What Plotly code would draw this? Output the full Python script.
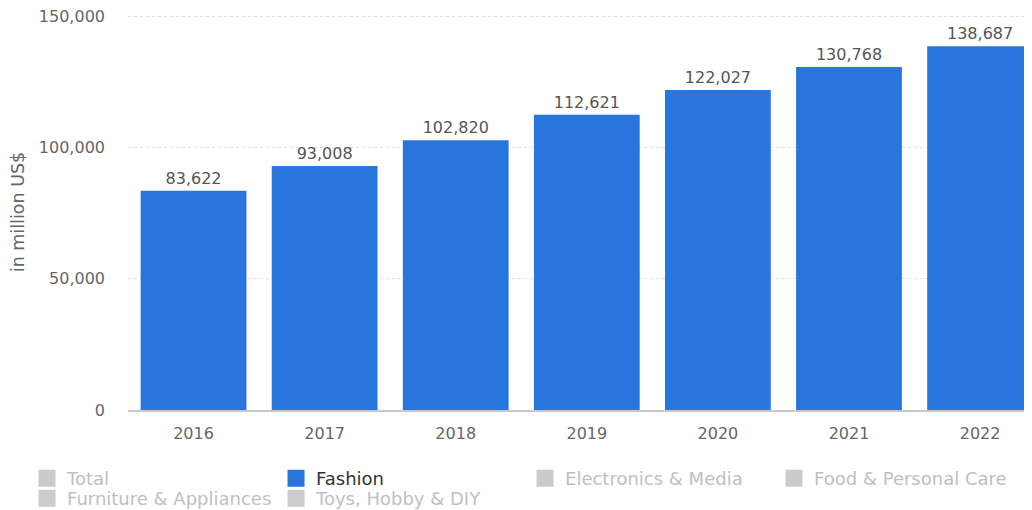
import plotly.graph_objects as go

years = ["2016", "2017", "2018", "2019", "2020", "2021", "2022"]
fashion = [83622, 93008, 102820, 112621, 122027, 130768, 138687]
legend_row1 = ["Total", "Fashion", "Electronics & Media", "Food & Personal Care"]
legend_row2 = ["Furniture & Appliances", "Toys, Hobby & DIY"]
y_ticks = [0, 50000, 100000, 150000]
y_tick_text = ["0", "50,000", "100,000", "150,000"]

BLUE = "#2876dd"
GREY = "#999999"
FONT = "DejaVu Sans"

fig = go.Figure()

# data bars
fig.add_trace(go.Bar(
    x=years, y=fashion, name="Fashion", showlegend=False,
    marker=dict(color=BLUE, line=dict(width=0)),
    text=[f"{v:,}" for v in fashion], textposition="outside",
    textfont=dict(family=FONT, size=16, color="#555555"),
    cliponaxis=False, hoverinfo="x+y",
))

# legend entries (no drawn marks)
for legend_id, names in (("legend", legend_row1), ("legend2", legend_row2)):
    for name in names:
        active = name == "Fashion"
        color = BLUE if active else GREY
        fig.add_trace(go.Bar(
            x=years, y=[None] * len(years),
            name="<span style='color:#333333'>Fashion</span>" if active else name,
            visible=True if active else "legendonly",
            showlegend=True, legend=legend_id, hoverinfo="skip",
            marker=dict(color=color, line=dict(width=5, color=color)),
        ))

legend_common = dict(
    orientation="h", x=-0.1117, xanchor="left", yanchor="top",
    font=dict(family=FONT, size=18, color="#808080"),
    entrywidth=204, entrywidthmode="pixels",
    tracegroupgap=0, itemclick=False, itemdoubleclick=False,
    traceorder="normal", bgcolor="rgba(0,0,0,0)",
)

# page body has an 8px default margin: figure is laid out at (8, 8)
fig.update_layout(
    width=1024, height=502,
    margin=dict(l=120, r=0, t=6.4, b=100, autoexpand=False),
    paper_bgcolor="white", plot_bgcolor="white",
    font=dict(family=FONT, size=16, color="#666666"),
    barmode="overlay",
    bargap=0.193,
    showlegend=True,
    legend=dict(y=-0.1265, **legend_common),
    legend2=dict(y=-0.1771, **legend_common),
    xaxis=dict(
        type="category", categoryorder="array", categoryarray=years,
        range=[-0.5, 6.396], showgrid=False, zeroline=False,
        showline=True, linecolor="#c8c8c8", linewidth=1.5,
        ticks="", ticklabelstandoff=8,
        tickfont=dict(family=FONT, size=16, color="#666666"),
        fixedrange=True,
    ),
    yaxis=dict(
        range=[0, 151000], tickvals=y_ticks, ticktext=y_tick_text,
        showgrid=True, gridcolor="#dddddd", griddash="dot", gridwidth=1,
        zeroline=False, showline=False, ticks="", ticklabelstandoff=22,
        ticklabeloverflow="allow",
        tickfont=dict(family=FONT, size=16, color="#666666"),
        title=dict(text="in million US$", standoff=14,
                   font=dict(family=FONT, size=17.5, color="#666666")),
        automargin=False, fixedrange=True,
    ),
)

fig.write_html("out.html")
